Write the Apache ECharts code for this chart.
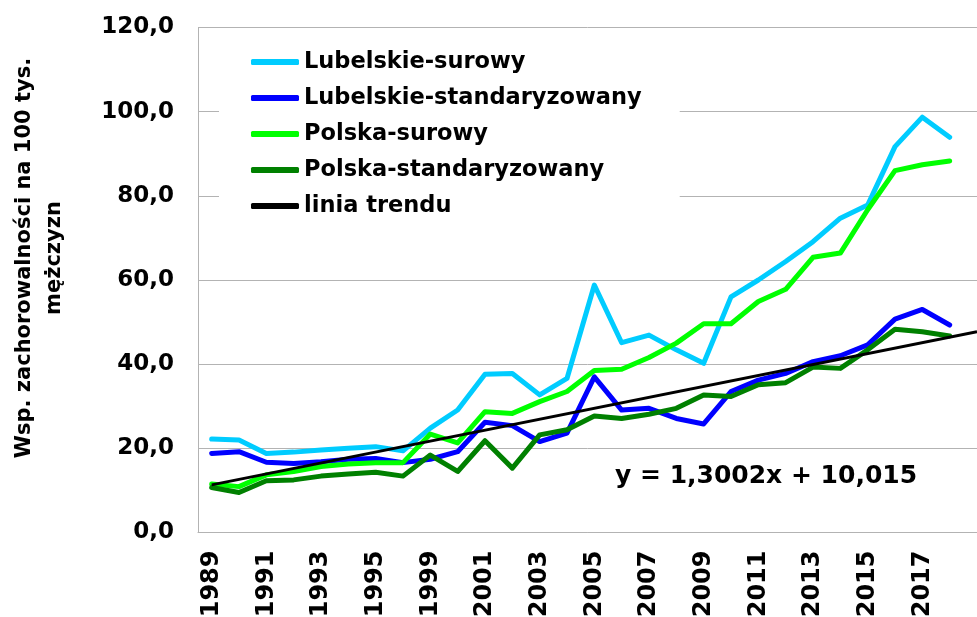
<!DOCTYPE html>
<html>
<head>
<meta charset="utf-8">
<script src="https://cdn.jsdelivr.net/npm/echarts@6/dist/echarts.min.js"></script>
<style>
  html, body { margin: 0; padding: 0; background: #fff; }
  #chart { width: 977px; height: 617px; }
</style>
</head>
<body>
<div id="chart"></div>
<script>
// lata (1997/1998 - brak jednego roku w danych)
const years = ['1989', '1990', '1991', '1992', '1993', '1994', '1995', '1996', '1999', '2000',
  '2001', '2002', '2003', '2004', '2005', '2006', '2007', '2008', '2009', '2010',
  '2011', '2012', '2013', '2014', '2015', '2016', '2017', '2018']

const lubelskieSurowy = [22.2, 22.0, 18.8, 19.1, 19.6, 20.0, 20.4, 19.4, 24.8, 29.1,
  37.6, 37.8, 32.7, 36.6, 58.8, 45.1, 46.9, 43.4, 40.2, 56.0,
  60.0, 64.4, 69.1, 74.7, 77.8, 91.7, 98.7, 93.9]
const lubelskieStd = [18.8, 19.2, 16.7, 16.4, 16.8, 17.4, 17.6, 16.6, 17.4, 19.2,
  26.2, 25.4, 21.6, 23.6, 37.0, 29.1, 29.5, 27.1, 25.8, 33.5,
  36.2, 37.8, 40.6, 42.0, 44.6, 50.7, 53.0, 49.3]
const polskaSurowy = [11.5, 10.9, 13.7, 14.5, 15.7, 16.3, 16.6, 16.6, 23.4, 21.3,
  28.7, 28.3, 31.1, 33.5, 38.5, 38.8, 41.6, 45.0, 49.6, 49.6,
  54.9, 57.8, 65.4, 66.4, 76.7, 86.0, 87.4, 88.3]
const polskaStd = [10.7, 9.5, 12.3, 12.5, 13.4, 13.9, 14.3, 13.4, 18.4, 14.5,
  21.8, 15.3, 23.2, 24.4, 27.7, 27.1, 28.1, 29.5, 32.7, 32.3,
  35.1, 35.6, 39.3, 39.0, 43.4, 48.3, 47.7, 46.7]

// linia trendu: y = 1,3002x + 10,015 (x = 1 dla 1989)
const trendSlope = 1.3002
const trendIntercept = 10.015
const yTicks = [0, 20, 40, 60, 80, 100, 120]

const font = 'DejaVu Sans'
const xMax = 28 // os x wychodzi poza ostatni rok, jak w oryginale

const toPairs = arr => arr.map((v, i) => [i, v])
const trendAt = i => trendSlope * (i + 1) + trendIntercept

let chart = echarts.init(document.getElementById('chart'))
let series = [
  {name: 'Lubelskie-surowy', data: toPairs(lubelskieSurowy), color: '#00CCFF'},
  {name: 'Lubelskie-standaryzowany', data: toPairs(lubelskieStd), color: '#0000FF'},
  {name: 'Polska-surowy', data: toPairs(polskaSurowy), color: '#00FF00'},
  {name: 'Polska-standaryzowany', data: toPairs(polskaStd), color: '#008000'}
].map(s => ({
  name: s.name,
  type: 'line',
  data: s.data,
  showSymbol: false,
  color: s.color,
  lineStyle: {width: 5, color: s.color, cap: 'round', join: 'round'}
}))
series.push({
  name: 'linia trendu',
  type: 'line',
  data: [[0, trendAt(0)], [xMax, trendAt(xMax)]],
  showSymbol: false,
  color: '#000',
  lineStyle: {width: 3, color: '#000'},
  z: 5
})

let options = {
  animation: false,
  grid: {left: 198, right: 0, top: 27.5, bottom: 84.5, outerBoundsMode: 'none', containLabel: false},
  legend: {
    orient: 'vertical',
    left: 219,
    top: 30,
    padding: [20, 38, 20, 32],
    backgroundColor: '#fff',
    itemWidth: 48,
    itemHeight: 6,
    itemGap: 12,
    icon: 'roundRect',
    textStyle: {fontFamily: font, fontWeight: 'bold', fontSize: 22.5, lineHeight: 24, color: '#000'},
    data: series.map(s => s.name)
  },
  xAxis: {
    type: 'value',
    min: -0.5,
    max: xMax,
    axisLine: {lineStyle: {color: '#B3B3B3', width: 1}},
    axisTick: {show: false},
    splitLine: {show: false},
    axisLabel: {
      customValues: years.map((y, i) => i).filter(i => i % 2 === 0),
      formatter: v => years[v],
      rotate: 90,
      margin: 18,
      fontFamily: font,
      fontWeight: 'bold',
      fontSize: 24,
      color: '#000'
    }
  },
  yAxis: {
    type: 'value',
    min: yTicks[0],
    max: yTicks[yTicks.length - 1],
    interval: 20,
    axisLine: {show: true, onZero: false, lineStyle: {color: '#B3B3B3', width: 1}},
    axisTick: {show: false},
    splitLine: {lineStyle: {color: '#B3B3B3', width: 1}},
    axisLabel: {
      formatter: v => v.toFixed(1).replace('.', ','),
      margin: 24,
      fontFamily: font,
      fontWeight: 'bold',
      fontSize: 23,
      color: '#000'
    }
  },
  graphic: [
    {
      type: 'text',
      x: 40,
      y: 258,
      rotation: Math.PI / 2,
      style: {
        text: 'Wsp. zachorowalności na 100 tys.\nmężczyzn',
        fontFamily: font,
        fontWeight: 'bold',
        fontSize: 21,
        lineHeight: 30,
        fill: '#000',
        align: 'center',
        verticalAlign: 'middle'
      }
    },
    {
      type: 'text',
      left: 615,
      top: 464,
      style: {
        text: 'y = 1,3002x + 10,015',
        fontFamily: font,
        fontWeight: 'bold',
        fontSize: 25,
        fill: '#000'
      }
    }
  ],
  series: series
}
chart.setOption(options)
</script>
</body>
</html>
